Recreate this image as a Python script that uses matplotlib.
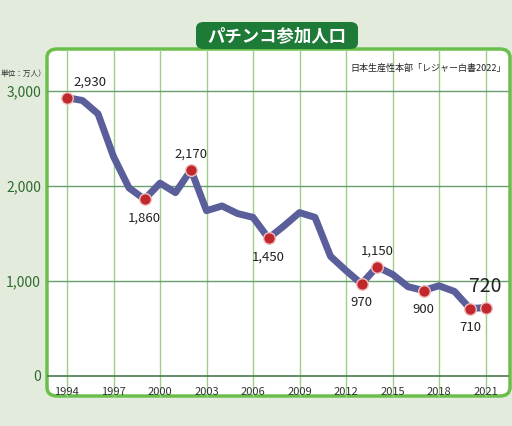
import matplotlib
matplotlib.use("Agg")
import matplotlib.pyplot as plt
from matplotlib.patches import FancyBboxPatch
import numpy as np

plt.rcParams['font.family'] = ['Noto Sans CJK JP', 'DejaVu Sans']

years = list(range(1994, 2022))
values = [2930, 2900, 2760, 2310, 1980, 1860, 2030, 1930, 2170, 1740, 1790, 1710, 1670, 1450,
          1580, 1720, 1670, 1260, 1110, 970, 1150, 1070, 940, 900, 950, 890, 710, 720]
marked_years = [1994, 1999, 2002, 2007, 2013, 2014, 2017, 2020, 2021]
xticks = list(range(1994, 2022, 3))
yticks = [0, 1000, 2000, 3000]

W, H = 512, 427
fig = plt.figure(figsize=(W/100, H/100), dpi=100)
fig.patch.set_facecolor('#e3ecdc')

def fx(px): return px / W
def fy(py): return 1 - py / H

box = FancyBboxPatch((fx(47), fy(397)), fx(510) - fx(47), fy(50) - fy(397),
                     boxstyle="round,pad=0,rounding_size=0.02", transform=fig.transFigure,
                     facecolor='white', edgecolor='#6abf4b', linewidth=2.5, zorder=1)
fig.patches.append(box)
tab = FancyBboxPatch((fx(196), fy(50)), fx(358) - fx(196), fy(23) - fy(50),
                     boxstyle="round,pad=0,rounding_size=0.015", transform=fig.transFigure,
                     facecolor='#1e7a37', edgecolor='none', zorder=2)
fig.patches.append(tab)
fig.text(fx(277), fy(36), 'パチンコ参加人口', color='white', fontsize=12.5, fontweight='bold',
         ha='center', va='center', zorder=3)

x0, x1 = 1994 - 20/15.5, 1994 + (509 - 67)/15.5
ppu = (377 - 92) / 3000
y0 = -(398 - 377) / ppu
y1 = (377 - 51) / ppu
ax = fig.add_axes([fx(47), fy(398), fx(509) - fx(47), fy(51) - fy(398)])
ax.set_zorder(5)
ax.set_facecolor('none')
ax.set_xlim(x0, x1)
ax.set_ylim(y0, y1)
for s in ax.spines.values():
    s.set_visible(False)
for x in xticks:
    ax.axvline(x, color='#9ccf8a', lw=1, zorder=1)
for y in yticks[1:]:
    ax.axhline(y, color='#6a9e6a', lw=1, zorder=1)
ax.axhline(0, color='#4a7a4a', lw=1.2, zorder=1)
ax.set_xticks([]); ax.set_yticks([])

ax.plot(years, values, color='#5a5e9a', lw=5, solid_capstyle='round', solid_joinstyle='round', zorder=3)
mv = [values[years.index(y)] for y in marked_years]
ax.scatter(marked_years, mv, s=70, color='#c0282d', edgecolor='#f0c0c0', linewidth=1, zorder=4)

labels = {1994: ('2,930', 0.4, 170, 'left'), 1999: ('1,860', 0, -190, 'center'),
          2002: ('2,170', 0, 180, 'center'), 2007: ('1,450', 0, -190, 'center'),
          2013: ('970', 0, -190, 'center'), 2014: ('1,150', 0, 180, 'center'),
          2017: ('900', 0, -190, 'center'), 2020: ('710', 0, -190, 'center')}
for yr, (t, dx, dy, ha) in labels.items():
    ax.text(yr + dx, values[years.index(yr)] + dy, t, fontsize=9.5, ha=ha, va='center',
            color='#222222', zorder=5)
ax.text(2021, 720 + 230, '720', fontsize=14, ha='center', va='center', color='#222222', zorder=5)

ax.text(2022.3, 3250, '日本生産性本部「レジャー白書2022」', fontsize=6.5, ha='right', va='center', color='#222222')

for x in xticks:
    ax.text(x, -160, str(x), fontsize=8, ha='center', va='center', color='#333333')
for y in yticks:
    fig.text(fx(41), fy(377 - y * ppu), f'{y:,}', fontsize=10, ha='right', va='center', color='#2f6b2f')
fig.text(fx(1), fy(74), '単位：万人）', fontsize=5.5, ha='left', va='center', color='#333333')

fig.savefig('out.png', dpi=100, facecolor=fig.get_facecolor())
